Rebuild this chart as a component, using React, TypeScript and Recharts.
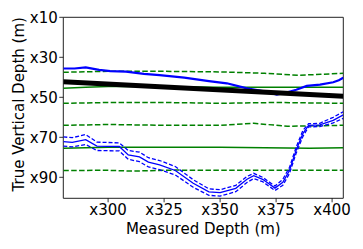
import React from 'react';
import { LineChart, Line, XAxis, YAxis, ReferenceArea } from 'recharts';

// Measured depth ticks / TVD ticks
const xTicks = [300, 325, 350, 375, 400];
const yTicks = [10, 30, 50, 70, 90];

// Thick black straight line
const blackMd = [280, 405];
const blackTvd = [42.2, 49.5];

// Upper blue line
const upperBlueMd = [280, 285, 290, 296, 301, 308, 316, 323, 334, 345, 353, 362, 371, 375.3, 380, 384, 388.7, 394.6, 400.5, 403, 405];
const upperBlueTvd = [35.6, 35.6, 35, 36.3, 36.9, 37.2, 38.3, 38.9, 40.2, 41.9, 43, 45.5, 47.3, 48.6, 47.5, 46.2, 44.3, 43.7, 42.5, 41.5, 40.2];

// Lower blue line with its band
const lowerBlueMd = [280, 284, 290, 295, 305, 309, 314, 318, 323, 330, 338, 345, 350, 357, 362, 365, 369, 374.5, 378, 381, 384, 387, 389.5, 394.5, 400.5, 405];
const lowerBlueTvd = [72.2, 72.5, 71.2, 74.4, 74.6, 78.8, 79.8, 82.4, 83.8, 86.6, 93, 97.3, 97.7, 95.5, 91, 89.2, 91, 95.4, 92.5, 86.5, 76.3, 68, 64, 63.8, 61.5, 58.8];
const lowerBlueTop = [69.8, 70.2, 68.6, 72.4, 72.8, 76.6, 77.4, 80.2, 81.6, 84.6, 91.2, 95.8, 96.2, 94, 89.6, 88, 90, 94.4, 91, 85, 74.8, 66.5, 63.2, 63, 60, 57.2];
const lowerBlueBottom = [74.4, 74.8, 73.6, 76.6, 76.8, 81, 82.2, 84.8, 86.2, 88.8, 95, 99, 99.4, 97.2, 92.6, 90.6, 92.2, 96.6, 94, 88, 77.8, 69.5, 64.8, 64.6, 62.8, 60.5];

// Green lines
const greenSolid1Md = [280, 290, 300, 320, 350, 375, 405];
const greenSolid1Tvd = [45.5, 45, 44.6, 44.6, 45, 45, 45];
const greenSolid2Md = [280, 300, 350, 390, 405];
const greenSolid2Tvd = [75.5, 75, 75, 75.5, 75.2];
const greenDash1Md = [280, 300, 325, 350, 370, 385, 395, 405];
const greenDash1Tvd = [37.5, 37, 37, 37.3, 38, 39, 38.5, 38];
const greenDash2Md = [280, 300, 325, 350, 375, 405];
const greenDash2Tvd = [53, 52.6, 52.6, 53, 52.6, 53];
const greenDash3Md = [280, 300, 325, 350, 365, 380, 405];
const greenDash3Tvd = [64, 63.6, 64, 64, 63, 64.5, 64];
const greenDash4Md = [280, 300, 310, 330, 350, 405];
const greenDash4Tvd = [86.6, 86.5, 86.9, 86.4, 86.5, 86.5];

const toPts = (md: number[], tvd: number[]) => md.map((m, i) => ({ md: m, tvd: tvd[i] }));

const FONT = '"DejaVu Sans", sans-serif';
const FS = 15;
const BLUE = '#0000ff';
const GREEN = '#008000';

export default function App() {
  const greenDashes = [
    toPts(greenDash1Md, greenDash1Tvd),
    toPts(greenDash2Md, greenDash2Tvd),
    toPts(greenDash3Md, greenDash3Tvd),
    toPts(greenDash4Md, greenDash4Tvd),
  ];
  const greenSolids = [toPts(greenSolid1Md, greenSolid1Tvd), toPts(greenSolid2Md, greenSolid2Tvd)];
  return (
    <div style={{ position: 'absolute', left: 0, top: 0, background: '#fff' }}>
      <LineChart width={363} height={249} margin={{ top: 17.3, right: 19.7, bottom: 20.7, left: 13.3 }}>
        <XAxis
          dataKey="md"
          type="number"
          domain={[280, 405]}
          allowDataOverflow
          ticks={xTicks}
          tickFormatter={(v: number) => 'x' + v}
          height={30}
          tickSize={4}
          tickMargin={2}
          axisLine={false}
          tickLine={{ stroke: '#000', strokeWidth: 0.8 }}
          tick={{ fill: '#000', fontSize: FS, fontFamily: FONT }}
          label={{
            content: (p: any) => {
              const vb = p.viewBox || {};
              return (
                <text x={vb.x + vb.width / 2} y={vb.y + 36} textAnchor="middle" fontSize={FS} fontFamily={FONT} fill="#000">
                  Measured Depth (m)
                </text>
              );
            },
          }}
        />
        <YAxis
          dataKey="tvd"
          type="number"
          domain={[10, 100.5]}
          reversed
          allowDataOverflow
          ticks={yTicks}
          tickFormatter={(v: number) => 'x' + v}
          width={50}
          tickSize={4}
          tickMargin={1.5}
          axisLine={false}
          tickLine={{ stroke: '#000', strokeWidth: 0.8 }}
          tick={{ fill: '#000', fontSize: FS, fontFamily: FONT }}
          label={{
            content: (p: any) => {
              const vb = p.viewBox || {};
              const cx = vb.x + 11;
              const cy = vb.y + vb.height / 2 - 3.5;
              return (
                <text x={cx} y={cy} transform={`rotate(-90 ${cx} ${cy})`} textAnchor="middle" fontSize={FS} fontFamily={FONT} fill="#000">
                  True Vertical Depth (m)
                </text>
              );
            },
          }}
        />
        {greenDashes.map((d, i) => (
          <Line key={'gd' + i} data={d} dataKey="tvd" stroke={GREEN} strokeWidth={1.5} strokeDasharray="5.5 2.4" dot={false} isAnimationActive={false} />
        ))}
        {greenSolids.map((d, i) => (
          <Line key={'gs' + i} data={d} dataKey="tvd" stroke={GREEN} strokeWidth={1.5} dot={false} isAnimationActive={false} />
        ))}
        <Line data={toPts(upperBlueMd, upperBlueTvd)} dataKey="tvd" stroke={BLUE} strokeWidth={2.2} dot={false} isAnimationActive={false} />
        <Line data={toPts(lowerBlueMd, lowerBlueTvd)} dataKey="tvd" stroke={BLUE} strokeWidth={1.3} dot={false} isAnimationActive={false} />
        <Line data={toPts(lowerBlueMd, lowerBlueTop)} dataKey="tvd" stroke={BLUE} strokeWidth={1.3} strokeDasharray="4 2" dot={false} isAnimationActive={false} />
        <Line data={toPts(lowerBlueMd, lowerBlueBottom)} dataKey="tvd" stroke={BLUE} strokeWidth={1.3} strokeDasharray="4 2" dot={false} isAnimationActive={false} />
        <Line data={toPts(blackMd, blackTvd)} dataKey="tvd" stroke="#000" strokeWidth={5} dot={false} isAnimationActive={false} />
        <ReferenceArea x1={280} x2={405} y1={10} y2={100.5} fill="none" stroke="#222" strokeWidth={1} ifOverflow="visible" />
      </LineChart>
    </div>
  );
}
